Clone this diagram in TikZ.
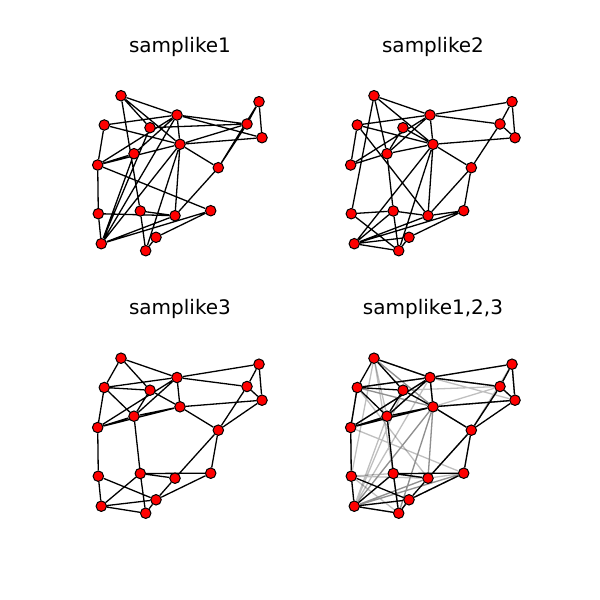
\documentclass[tikz,border=0pt]{standalone}
\usepackage{fontspec}
\setmainfont{DejaVu Sans}
\usetikzlibrary{backgrounds}

\tikzset{monk/.style={circle,draw=black,fill=red,line width=1pt,inner sep=0pt,minimum size=10.5pt},
  tie/.style={line width=1.3pt,black},
  faint/.style={line width=1.3pt,black,draw opacity=.25},
  paneltitle/.style={font=\fontsize{20}{24}\selectfont}}

% the 18 monks of one panel, names prefixed by #1
\newcommand{\monks}[1]{%
  \node[monk] (#1a) at (121,95.7) {}; \node[monk] (#1b) at (104.3,125) {}; \node[monk] (#1c) at (150,127.7) {};
  \node[monk] (#1d) at (177,115) {}; \node[monk] (#1e) at (134,153.7) {}; \node[monk] (#1f) at (180,144.3) {};
  \node[monk] (#1g) at (97.7,165) {}; \node[monk] (#1h) at (259,101.7) {}; \node[monk] (#1i) at (247,124) {};
  \node[monk] (#1j) at (262,137.7) {}; \node[monk] (#1k) at (218.3,167.7) {}; \node[monk] (#1l) at (98.3,213.7) {};
  \node[monk] (#1m) at (140.3,211) {}; \node[monk] (#1n) at (175,215.7) {}; \node[monk] (#1o) at (210.7,210.7) {};
  \node[monk] (#1p) at (156,237.3) {}; \node[monk] (#1q) at (101.3,243.7) {}; \node[monk] (#1r) at (145.7,250.7) {};}

% samplike1
\newcommand{\likeone}[2]{\draw[#2] (#1a) -- (#1c) (#1a) -- (#1d) (#1a) -- (#1f) (#1a) -- (#1m) (#1b) -- (#1d) (#1b) -- (#1f) (#1b) -- (#1g)
  (#1c) -- (#1i) (#1c) -- (#1q) (#1d) -- (#1i) (#1d) -- (#1j) (#1d) -- (#1f) (#1d) -- (#1g) (#1d) -- (#1q) (#1e) -- (#1g) (#1e) -- (#1d)
  (#1e) -- (#1q) (#1f) -- (#1i) (#1f) -- (#1j) (#1f) -- (#1k) (#1f) -- (#1n) (#1f) -- (#1q) (#1f) -- (#1g) (#1g) -- (#1l) (#1g) -- (#1o)
  (#1h) -- (#1i) (#1h) -- (#1j) (#1h) -- (#1k) (#1i) -- (#1k) (#1k) -- (#1n) (#1l) -- (#1n) (#1l) -- (#1q) (#1m) -- (#1n) (#1m) -- (#1r)
  (#1n) -- (#1q) (#1o) -- (#1q) (#1o) -- (#1p) (#1p) -- (#1r) (#1f) -- (#1r);}
% samplike2
\newcommand{\liketwo}[2]{\draw[#2] (#1a) -- (#1d) (#1a) -- (#1e) (#1a) -- (#1l) (#1a) -- (#1f) (#1b) -- (#1d) (#1b) -- (#1g) (#1b) -- (#1n)
  (#1b) -- (#1f) (#1c) -- (#1f) (#1c) -- (#1e) (#1d) -- (#1e) (#1d) -- (#1f) (#1d) -- (#1g) (#1d) -- (#1h) (#1d) -- (#1i) (#1e) -- (#1f)
  (#1e) -- (#1g) (#1e) -- (#1m) (#1f) -- (#1j) (#1f) -- (#1k) (#1f) -- (#1n) (#1f) -- (#1q) (#1f) -- (#1r) (#1h) -- (#1i) (#1h) -- (#1j)
  (#1i) -- (#1j) (#1i) -- (#1k) (#1k) -- (#1n) (#1k) -- (#1o) (#1l) -- (#1m) (#1l) -- (#1r) (#1m) -- (#1n) (#1m) -- (#1q) (#1m) -- (#1r)
  (#1n) -- (#1o) (#1n) -- (#1q) (#1o) -- (#1p) (#1o) -- (#1q) (#1p) -- (#1q) (#1p) -- (#1r) (#1q) -- (#1r);}
% samplike3
\newcommand{\likethree}[2]{\draw[#2] (#1a) -- (#1b) (#1a) -- (#1c) (#1a) -- (#1d) (#1b) -- (#1c) (#1b) -- (#1d) (#1b) -- (#1e) (#1b) -- (#1g)
  (#1c) -- (#1e) (#1c) -- (#1f) (#1d) -- (#1e) (#1d) -- (#1f) (#1d) -- (#1g) (#1d) -- (#1h) (#1d) -- (#1i) (#1e) -- (#1f) (#1e) -- (#1g)
  (#1g) -- (#1f) (#1e) -- (#1m) (#1f) -- (#1j) (#1f) -- (#1k) (#1h) -- (#1i) (#1h) -- (#1j) (#1i) -- (#1j) (#1i) -- (#1k) (#1j) -- (#1k)
  (#1g) -- (#1l) (#1k) -- (#1n) (#1k) -- (#1o) (#1l) -- (#1q) (#1l) -- (#1p) (#1m) -- (#1n) (#1m) -- (#1o) (#1m) -- (#1q) (#1m) -- (#1r)
  (#1n) -- (#1p) (#1o) -- (#1p) (#1p) -- (#1q) (#1p) -- (#1r) (#1q) -- (#1r);}

\begin{document}
\begin{tikzpicture}[x=1pt,y=-1pt]
	\useasboundingbox (0,0) rectangle (600,600);

	\node[paneltitle] (title1) at (180,47) {samplike1}; \node[paneltitle] (title2) at (433,47) {samplike2};
	\node[paneltitle] (title3) at (180,309) {samplike3}; \node[paneltitle] (title4) at (433,309) {samplike1,2,3};

	\begin{scope} \monks{s1} \end{scope}
	\begin{scope}[shift={(253,0)}] \monks{s2} \end{scope}
	\begin{scope}[shift={(0,262.5)}] \monks{s3} \end{scope}
	\begin{scope}[shift={(253,262.5)}] \monks{s4} \end{scope}

	\begin{scope}[on background layer]
		\likeone{s1}{tie} \liketwo{s2}{tie} \likethree{s3}{tie}
		\likethree{s4}{tie} \likeone{s4}{faint} \liketwo{s4}{faint}
	\end{scope}
\end{tikzpicture}
\end{document}
